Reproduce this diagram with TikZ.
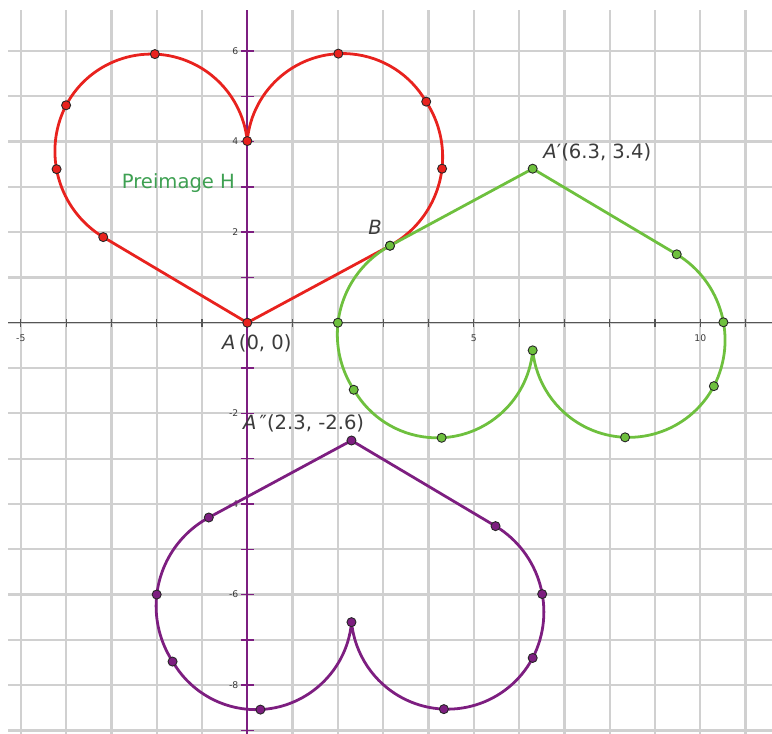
\documentclass[tikz,border=0pt]{standalone}
\usepackage{fontspec}
\setmainfont{DejaVu Sans}
\definecolor{gridc}{RGB}{208,208,208}
\definecolor{heartred}{RGB}{232,34,30}
\definecolor{heartgreen}{RGB}{110,192,62}
\definecolor{heartpurple}{RGB}{125,30,128}
\definecolor{axisgray}{RGB}{85,85,85}
\definecolor{txtgray}{RGB}{60,60,60}
\definecolor{pregreen}{RGB}{62,160,82}
\newcommand{\drawheart}[2]{%
  \coordinate (#1A) at (0,0);
  \coordinate (#1LT) at (-3.18,1.89);
  \coordinate (#1LB) at (-4.21,3.39);
  \coordinate (#1LU) at (-4.00,4.80);
  \coordinate (#1TL) at (-2.04,5.93);
  \coordinate (#1C) at (0,4.01);
  \coordinate (#1TR) at (2.01,5.94);
  \coordinate (#1RU) at (3.95,4.88);
  \coordinate (#1RB) at (4.30,3.40);
  \coordinate (#1RT) at (3.15,1.70);
  \draw[heartline, #2] (#1A) -- (#1LT)
    arc[start angle=238.76, end angle=152.76, radius=2.216]
    arc[start angle=152.06, end angle=5.61, radius=2.129]
    arc[start angle=174.91, end angle=29.92, radius=2.120]
    arc[start angle=33.26, end angle=-61.5, radius=2.228]
    -- cycle;
  \foreach \p in {A,LT,LB,LU,TL,C,TR,RU,RB,RT}
    \filldraw[ptdot, fill=#2] (#1\p) circle[radius=0.1];
}
\begin{document}
\begin{tikzpicture}[x=1cm,y=1cm,
  heartline/.style={line width=1.75pt, line join=round},
  ptdot/.style={draw=black!85, line width=0.55pt},
  gridline/.style={gridc, line width=1.4pt},
  ticklbl/.style={font=\fontsize{5.8}{6}\selectfont, text=txtgray, inner sep=0pt},
  ptlbl/.style={font=\fontsize{12.3}{14}\selectfont, text=txtgray, inner sep=0pt}]
\useasboundingbox (-5.459,-9.079) rectangle (11.583,7.124);
% grid
\foreach \x in {-5,...,11} \draw[gridline] (\x,-9.079) -- (\x,6.91);
\foreach \y in {-9,...,6} \draw[gridline] (-5.28,\y) -- (11.583,\y);
% x axis
\draw[axisgray, line width=0.9pt] (-5.28,0) -- (11.583,0);
\foreach \x in {-5,...,11} \draw[axisgray, line width=0.7pt] (\x,-0.09) -- (\x,0.09);
% y axis
\draw[heartpurple, line width=1.1pt] (0,-9.079) -- (0,6.91);
\foreach \y in {-9,...,-1,1,2,...,6} \draw[heartpurple, line width=0.9pt] (-0.14,\y) -- (0.14,\y);
% tick labels
\node[ticklbl] (xm5) at (-5,-0.34) {-5};
\node[ticklbl] (x5) at (5,-0.34) {5};
\node[ticklbl] (x10) at (10,-0.34) {10};
\node[ticklbl, anchor=east] (y6) at (-0.19,6) {6};
\node[ticklbl, anchor=east] (y4) at (-0.19,4) {4};
\node[ticklbl, anchor=east] (y2) at (-0.19,2) {2};
\node[ticklbl, anchor=east] (ym2) at (-0.19,-2) {-2};
\node[ticklbl, anchor=east] (ym4) at (-0.19,-4) {-4};
\node[ticklbl, anchor=east] (ym6) at (-0.19,-6) {-6};
\node[ticklbl, anchor=east] (ym8) at (-0.19,-8) {-8};
% hearts
\drawheart{r}{heartred}
\begin{scope}[rotate around={180:(3.15,1.70)}]
  \drawheart{g}{heartgreen}
\end{scope}
\begin{scope}[rotate around={180:(1.15,-1.30)}]
  \drawheart{p}{heartpurple}
\end{scope}
% labels
\node[font=\fontsize{12.3}{14}\selectfont, text=pregreen, inner sep=0pt] (pre) at (-1.52,3.09) {Preimage H};
\node[ptlbl] (lblB) at (2.82,2.11) {\textit{B}};
\node[ptlbl, anchor=west] (lblA) at (-0.56,-0.45) {\textit{A}\,(0, 0)};
\node[ptlbl, anchor=west] (lblA1) at (6.53,3.77) {\textit{A}′(6.3, 3.4)};
\node[ptlbl, anchor=west] (lblA2) at (-0.10,-2.22) {\textit{A}\,″(2.3, -2.6)};
\end{tikzpicture}
\end{document}
